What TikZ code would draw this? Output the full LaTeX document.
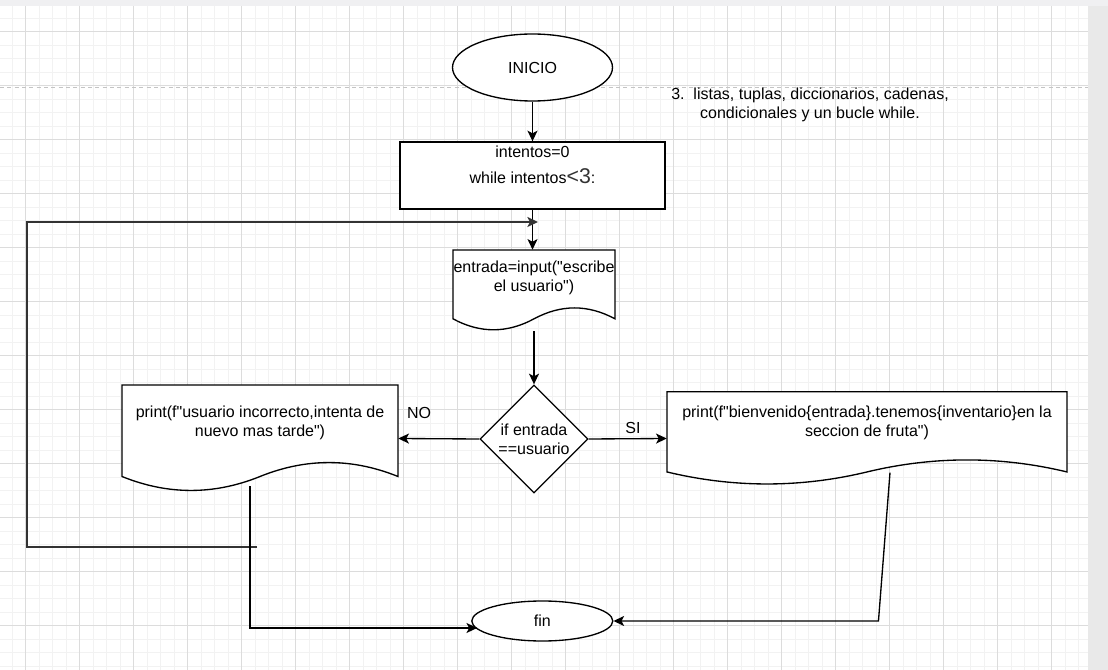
\documentclass[tikz,border=0pt]{standalone}
\usepackage{fontspec}
\setmainfont{Liberation Sans}[Ligatures=TeXOff]
\usetikzlibrary{shapes.geometric,arrows.meta,calc}
\definecolor{gridminor}{HTML}{F2F2F2}
\definecolor{gridmajor}{HTML}{DCDCDC}
\definecolor{topband}{HTML}{F0F0F2}
\definecolor{sidestrip}{HTML}{E9E9E9}
\definecolor{pagedash}{HTML}{C4C4C4}
\definecolor{loopcol}{HTML}{333333}
\definecolor{ltgray}{HTML}{333333}

% name, x0, y0, w, h, dy, extra node options
\newcommand{\docnode}[7]{%
  \draw[shapeline, fill=white] (#2,#3) -- ({#2+#4},#3) -- ({#2+#4},{#3+#5-0.5*#6})
   .. controls ({#2+5*#4/6},{#3+#5-1.1*#6}) and ({#2+2*#4/3},{#3+#5-1.1*#6}) .. ({#2+#4/2},{#3+#5-0.5*#6})
   .. controls ({#2+#4/3},{#3+#5+0.1*#6}) and ({#2+#4/6},{#3+#5+0.1*#6}) .. (#2,{#3+#5-0.5*#6}) -- cycle;
  \node[docbox, minimum width={#4*0.75pt}, minimum height={#5*0.75pt}, #7] (#1) at ({#2+#4/2},{#3+#5/2}) {};
}

\begin{document}
\begin{tikzpicture}[x=0.75pt,y=-0.75pt,
  every node/.style={font=\fontsize{12}{14.25}\selectfont, text=black},
  shapeline/.style={draw=black, line width=1pt},
  conn/.style={draw=black, line width=1pt, -{Stealth[length=8pt,width=7.5pt,inset=2pt]}},
  loopline/.style={draw=loopcol, line width=1.3pt, -{Stealth[length=8pt,width=7.5pt,inset=2pt]}},
  term/.style={ellipse, draw=black, line width=1pt, fill=white, inner sep=0pt},
  procbox/.style={rectangle, draw=black, line width=1pt, fill=white, inner sep=0pt},
  decision/.style={diamond, draw=black, line width=1pt, fill=white, inner sep=0pt, align=center, aspect=1},
  docbox/.style={rectangle, inner sep=0pt},
  lbl/.style={inner sep=0pt},
]
\useasboundingbox (0,0) rectangle (1108,670);
% background
\fill[white] (0,0) rectangle (1108,670);
\fill[topband] (0,0) rectangle (1108,6);
\fill[sidestrip] (1088,6) rectangle (1108,670);
\begin{scope}
  \clip (0,6) rectangle (1088,670);
  \foreach \k in {-2,...,80} \draw[gridminor, line width=0.75pt] ({25.7+13.5*\k},6) -- ({25.7+13.5*\k},670);
  \foreach \k in {-2,...,50} \draw[gridminor, line width=0.75pt] (0,{31.7+13.5*\k}) -- (1088,{31.7+13.5*\k});
  \foreach \k in {0,...,20} \draw[gridmajor, line width=0.75pt] ({25.7+54*\k},6) -- ({25.7+54*\k},670);
  \foreach \k in {-1,...,12} \draw[gridmajor, line width=0.75pt] (0,{31.7+54*\k}) -- (1088,{31.7+54*\k});
\end{scope}
\draw[pagedash, dash pattern=on 3pt off 2.5pt, line width=0.75pt] (0,88) -- (1088,88);

% shapes
\node[term, minimum width=120pt, minimum height=50.25pt] (ini) at (532.5,67.5) {INICIO};
\node[procbox, minimum width=198.75pt, minimum height=50.25pt,
  label={[lbl, align=center, yshift=8pt]center:{intentos=0\\[5pt]while intentos{\fontsize{16}{16}\selectfont\color{ltgray}<3}:}}] (ini2) at (532.5,175.5) {};
\docnode{d1}{453}{250}{162}{81}{24.3}{label={[lbl, align=center, yshift=9.4pt]center:{entrada=input("escribe\\el usuario")}}}
\node[decision, minimum width=81pt, minimum height=81pt] (dia) at (534,439) {if entrada\\==usuario};
\docnode{d2}{122}{385}{276}{107}{31}{label={[lbl, align=center, yshift=12pt]center:{print(f"usuario incorrecto,intenta de\\nuevo mas tarde")}}}
\docnode{d3}{667}{391.7}{400}{93.6}{26.7}{label={[lbl, align=center, yshift=12pt]center:{print(f"bienvenido\{entrada\}.tenemos\{inventario\}en la\\seccion de fruta")}}}
\node[term, minimum width=105.75pt, minimum height=30pt] (fin) at (542.3,621) {fin};

% texts
\node[lbl, align=center] (note) at (810,105) {3.\ \ listas, tuplas, diccionarios, cadenas,\\condicionales y un bucle while.};
\node[lbl] (no) at (419,413) {NO};
\node[lbl] (si) at (633,428) {SI};

% connectors
\draw[conn] (ini.south) -- (ini2.north);
\draw[conn] (ini2.south) -- (ini2.south |- d1.north);
\draw[conn] (d1.south) -- (dia.north);
\draw[conn] (dia.west) -- (d2.east);
\draw[conn] (dia.east) -- (d3.west);
\coordinate (lstart) at (257,547);
\coordinate (lend) at (538,222);
\draw[loopline] (lstart) -- ++(-230,0) |- (lend);
\draw[conn] ([shift={(-10,-6)}]d2.south) |- ([shift={(6,7)}]fin.west);
\draw[conn] ([shift={(23,-13)}]d3.south) -- ([shift={(265,0)}]fin.east) -- (fin.east);
\end{tikzpicture}
\end{document}
